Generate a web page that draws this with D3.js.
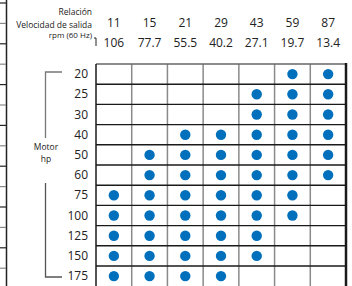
<!DOCTYPE html>
<html>
<head>
<meta charset="utf-8">
<script src="https://cdn.jsdelivr.net/npm/d3@7"></script>
<style>
  body { margin: 0; background: #fff; }
  svg { display: block; }
  text { font-family: "Open Sans", "Noto Sans", sans-serif; fill: #222; }
</style>
</head>
<body>
<div id="chart"></div>
<script>
// table data
const ratios = ["11", "15", "21", "29", "43", "59", "87"];
const speeds = ["106", "77.7", "55.5", "40.2", "27.1", "19.7", "13.4"];
const motorHp = ["20", "25", "30", "40", "50", "60", "75", "100", "125", "150", "175"];
// 1 = combination available, one row per motor hp, one column per ratio
const available = [
  [0, 0, 0, 0, 0, 1, 1],
  [0, 0, 0, 0, 1, 1, 1],
  [0, 0, 0, 0, 1, 1, 1],
  [0, 0, 1, 1, 1, 1, 1],
  [0, 1, 1, 1, 1, 1, 1],
  [0, 1, 1, 1, 1, 1, 1],
  [1, 1, 1, 1, 1, 1, 0],
  [1, 1, 1, 1, 1, 1, 0],
  [1, 1, 1, 1, 1, 0, 0],
  [1, 1, 1, 1, 1, 0, 0],
  [1, 1, 1, 1, 0, 0, 0]
];

const width = 352, height = 286;
const svg = d3.select("#chart").append("svg")
    .attr("width", width)
    .attr("height", height);

const x = d3.scaleBand().domain(ratios).range([96, 346]);
const y = d3.scaleBand().domain(motorHp).range([64, 64 + 20.2 * motorHp.length]);

// cropped neighbour table on the far left
svg.append("line")
    .attr("x1", 6.5).attr("x2", 6.5).attr("y1", 0).attr("y2", height)
    .attr("stroke", "#222").attr("stroke-width", 1.5);
const edgeTicks = d3.range(3, 286, 20.4);
svg.append("g").selectAll("line")
    .data(edgeTicks)
    .enter().append("line")
    .attr("x1", 0).attr("x2", 6)
    .attr("y1", d => d).attr("y2", d => d)
    .attr("stroke", (d, i) => i % 2 ? "#888" : "#222")
    .attr("stroke-width", 1.2);

// header labels
svg.append("text").attr("x", 92).attr("y", 15)
    .attr("text-anchor", "end").attr("font-size", 8.5).text("Relación");
svg.append("text").attr("x", 92).attr("y", 28)
    .attr("text-anchor", "end").attr("font-size", 8.5).text("Velocidad de salida");
svg.append("text").attr("x", 92).attr("y", 38)
    .attr("text-anchor", "end").attr("font-size", 8).text("rpm (60 Hz)");
svg.append("path")
    .attr("d", "M94,38 L96,38 L96,46")
    .attr("fill", "none").attr("stroke", "#222").attr("stroke-width", 1);

svg.append("g").selectAll("text")
    .data(ratios)
    .enter().append("text")
    .attr("x", d => x(d) + x.bandwidth() / 2)
    .attr("y", 27)
    .attr("text-anchor", "middle")
    .attr("font-size", 12)
    .text(d => d);

svg.append("g").selectAll("text")
    .data(speeds)
    .enter().append("text")
    .attr("x", (d, i) => x(ratios[i]) + x.bandwidth() / 2)
    .attr("y", 47)
    .attr("text-anchor", "middle")
    .attr("font-size", 12)
    .text(d => d);

// row labels
svg.append("g").selectAll("text")
    .data(motorHp)
    .enter().append("text")
    .attr("x", 88)
    .attr("y", d => y(d) + y.bandwidth() / 2 + 4)
    .attr("text-anchor", "end")
    .attr("font-size", 12)
    .text(d => d);

// motor hp bracket
svg.append("path")
    .attr("d", "M62,72 L45.5,72 L45.5,138")
    .attr("fill", "none").attr("stroke", "#777").attr("stroke-width", 1.3);
svg.append("path")
    .attr("d", "M45.5,183 L45.5,277 L62,277")
    .attr("fill", "none").attr("stroke", "#555").attr("stroke-width", 1.3);
svg.append("text").attr("x", 46).attr("y", 150)
    .attr("text-anchor", "middle").attr("font-size", 8.5).text("Motor");
svg.append("text").attr("x", 46).attr("y", 162)
    .attr("text-anchor", "middle").attr("font-size", 8.5).text("hp");

// grid
const x0 = x.range()[0], x1 = x.range()[1];
const y0 = y.range()[0], y1 = y.range()[1];

svg.append("g").selectAll("line")
    .data(ratios.slice(1))
    .enter().append("line")
    .attr("x1", d => x(d)).attr("x2", d => x(d))
    .attr("y1", y0).attr("y2", y1)
    .attr("stroke", "#8a8a8a").attr("stroke-width", 1.5);

svg.append("g").selectAll("line")
    .data(motorHp)
    .enter().append("line")
    .attr("x1", x0).attr("x2", x1)
    .attr("y1", d => y(d)).attr("y2", d => y(d))
    .attr("stroke", (d, i) => i === 0 ? "#666" : "#1a1a1a")
    .attr("stroke-width", 1.4);

svg.append("line")
    .attr("x1", x0).attr("x2", x0).attr("y1", y0).attr("y2", y1)
    .attr("stroke", "#1a1a1a").attr("stroke-width", 1.5);
svg.append("line")
    .attr("x1", x1).attr("x2", x1).attr("y1", y0 - 1).attr("y2", y1)
    .attr("stroke", "#1a1a1a").attr("stroke-width", 2.5);

// dots
const cells = [];
available.forEach((row, r) => {
    row.forEach((v, c) => {
        if (v) cells.push({ hp: motorHp[r], ratio: ratios[c] });
    });
});

svg.append("g").selectAll("circle")
    .data(cells)
    .enter().append("circle")
    .attr("cx", d => x(d.ratio) + x.bandwidth() / 2)
    .attr("cy", d => y(d.hp) + y.bandwidth() / 2)
    .attr("r", 5.2)
    .attr("fill", "#0070bd");
</script>
</body>
</html>
